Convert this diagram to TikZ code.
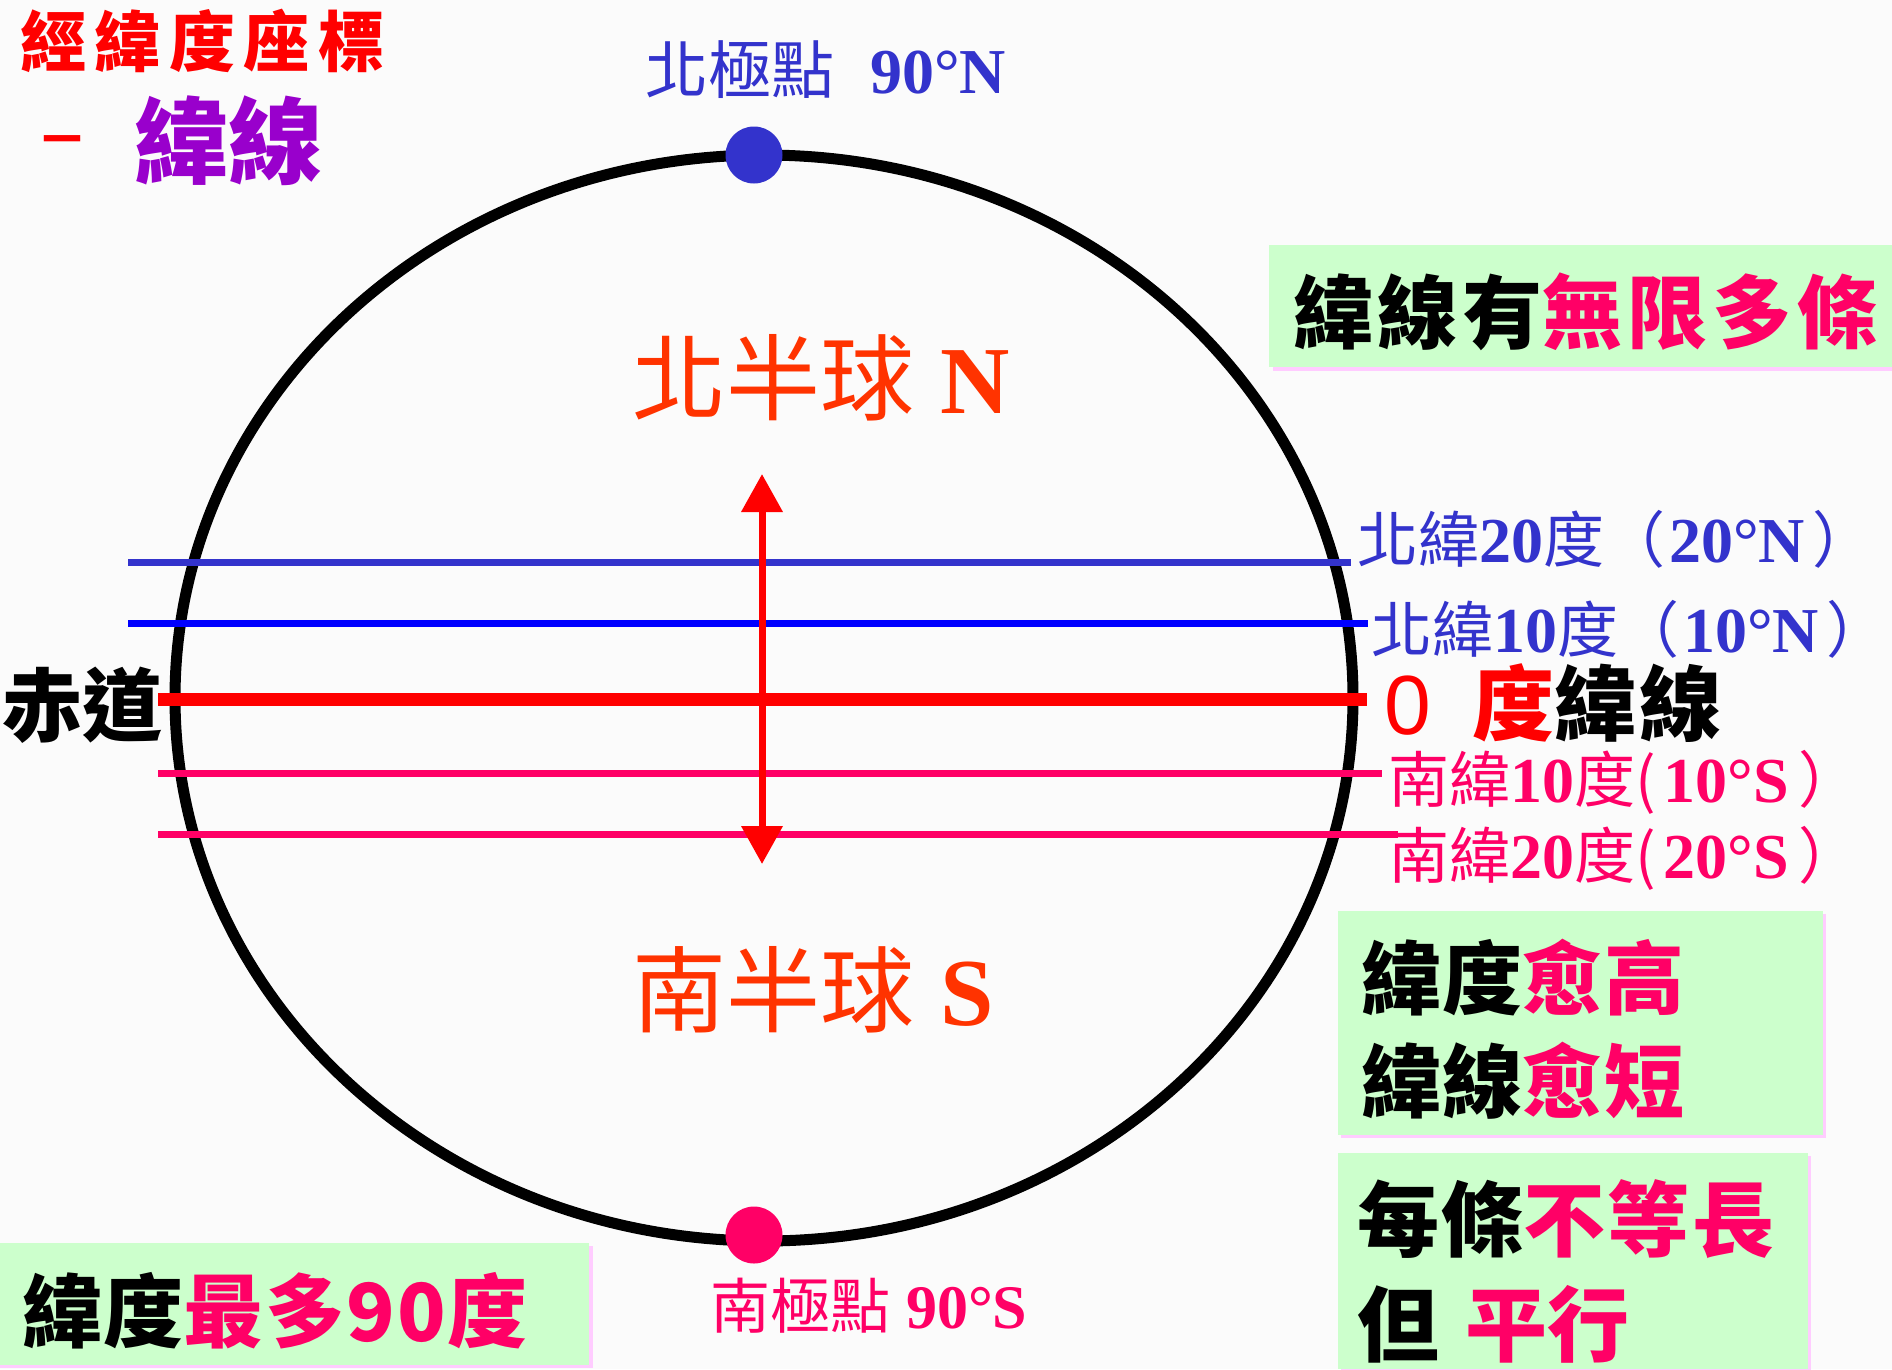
\documentclass[tikz,border=0pt]{standalone}
\usepackage{fontspec}
\usetikzlibrary{arrows.meta}
\newfontfamily\cjk{Noto Sans CJK TC}
\newfontfamily\tms{Liberation Serif}
\newfontfamily\ari{Liberation Sans}
\definecolor{bgc}{HTML}{FBFBFB}
\definecolor{bluec}{HTML}{3333CC}
\definecolor{pureblue}{HTML}{0000FF}
\definecolor{pinkc}{HTML}{FF0066}
\definecolor{redc}{HTML}{FF0000}
\definecolor{orc}{HTML}{FF3300}
\definecolor{purc}{HTML}{9900CC}
\definecolor{greenc}{HTML}{CCFFCC}
\definecolor{shadc}{HTML}{FFCCFF}
\newcommand\fsz[1]{\fontsize{#1}{#1}\selectfont}
\newcommand\tb[1]{{\tms\bfseries #1}}
\begin{document}
\begin{tikzpicture}[x=1pt,y=-1pt,
  lbl/.style={inner sep=0pt,outer sep=0pt,anchor=west},
  latline/.style={line width=7pt},
  greenbox/.style={fill=greenc},
  shadowbox/.style={fill=shadc},
  poledot/.style={circle,inner sep=0pt,minimum size=57pt}]
% background / bounding box
\fill[bgc] (0,0) rectangle (1892,1369);
\useasboundingbox (0,0) rectangle (1892,1369);

% globe
\draw[line width=11pt] (764,698) ellipse [x radius=589, y radius=543];

% latitude lines
\coordinate (n20w) at (128,562);  \coordinate (n20e) at (1351,562);
\coordinate (n10w) at (128,623);  \coordinate (n10e) at (1368,623);
\coordinate (eqw)  at (158,699);  \coordinate (eqe)  at (1367,699);
\coordinate (s10w) at (158,773);  \coordinate (s10e) at (1382,773);
\coordinate (s20w) at (158,834);  \coordinate (s20e) at (1398,834);
\draw[latline,bluec] (n20w) -- (n20e);
\draw[latline,pureblue] (n10w) -- (n10e);
\draw[line width=13pt,redc] (eqw) -- (eqe);
\draw[latline,pinkc] (s10w) -- (s10e);
\draw[latline,pinkc] (s20w) -- (s20e);

% arrow
\coordinate (arrN) at (762,474);
\coordinate (arrS) at (762,864);
\draw[redc,line width=7pt,{Triangle[width=40pt,length=38pt]}-{Triangle[width=40pt,length=38pt]}] (arrS) -- (arrN);

% poles
\node[poledot,fill=bluec] (np) at (754,155) {};
\node[poledot,fill=pinkc] (sp) at (754,1235) {};

% title
\node[lbl,text=redc] (title) at (20,41) {\cjk\bfseries\fsz{66}\addfontfeature{LetterSpace=13}經緯度座標};
\node[lbl,text=redc] (dash) at (36,147) {\cjk\bfseries\fsz{52}－};
\node[lbl,text=purc] (wx) at (134,141) {\cjk\bfseries\fsz{94}緯線};

% pole labels
\node[lbl,text=bluec] (npl) at (645,70) {\cjk\fsz{63}北極點\hspace{36pt}\tb{\fsz{64}90°N}};
\node[lbl,text=pinkc] (spl) at (710,1306) {\cjk\fsz{60}南極點\hspace{16pt}\tb{\fsz{62}90°S}};

% hemispheres
\node[lbl,text=orc] (nh) at (632,378) {\cjk\fsz{94}北半球\hspace{26pt}\tb{\fsz{96}N}};
\node[lbl,text=orc] (sh) at (632,990) {\cjk\fsz{94}南半球\hspace{26pt}\tb{\fsz{96}S}};

% latitude labels
\node[lbl,text=bluec] (l20n) at (1357,539) {\cjk\fsz{61}北緯\tb{\fsz{64}20}度（\hspace{4pt}\tb{\fsz{64}20°N}\hspace{8pt}）};
\node[lbl,text=bluec] (l10n) at (1371,629) {\cjk\fsz{61}北緯\tb{\fsz{64}10}度（\hspace{4pt}\tb{\fsz{64}10°N}\hspace{8pt}）};
\node[lbl] (l0) at (1384,703) {\textcolor{redc}{\ari\fsz{84}0}\hspace{42pt}{\cjk\bfseries\fsz{82}\addfontfeature{LetterSpace=4}\textcolor{redc}{度}\textcolor{black}{緯線}}};
\node[lbl,text=pinkc] (l10s) at (1388,782) {\cjk\fsz{61}南緯\tb{\fsz{64}10}度(\hspace{8pt}\tb{\fsz{64}10°S}\hspace{10pt}）};
\node[lbl,text=pinkc] (l20s) at (1388,858) {\cjk\fsz{61}南緯\tb{\fsz{64}20}度(\hspace{8pt}\tb{\fsz{64}20°S}\hspace{10pt}）};

% equator
\node[lbl] (eq) at (2,705) {\cjk\bfseries\fsz{80}赤道};

% boxes
\fill[shadowbox] (1273,249) rectangle (1896,371);
\fill[greenbox] (1269,245) rectangle (1892,367);
\node[lbl] (b1) at (1293,312) {\cjk\bfseries\fsz{80}\addfontfeature{LetterSpace=6}緯線有\textcolor{pinkc}{無限多條}};

\fill[shadowbox] (1341,914) rectangle (1826,1138);
\fill[greenbox] (1338,911) rectangle (1823,1135);
\node[lbl] (b2a) at (1361,978) {\cjk\bfseries\fsz{80}\addfontfeature{LetterSpace=2}緯度\textcolor{pinkc}{愈高}};
\node[lbl] (b2b) at (1361,1081) {\cjk\bfseries\fsz{80}\addfontfeature{LetterSpace=2}緯線\textcolor{pinkc}{愈短}};

\fill[shadowbox] (1341,1156) rectangle (1811,1373);
\fill[greenbox] (1338,1153) rectangle (1808,1369);
\node[lbl] (b3a) at (1357,1219) {\cjk\bfseries\fsz{82}\addfontfeature{LetterSpace=3}每條\textcolor{pinkc}{不等長}};
\node[lbl] (b3b) at (1357,1324) {\cjk\bfseries\fsz{82}但\hspace{26pt}\textcolor{pinkc}{平行}};

\fill[shadowbox] (0,1246) rectangle (593,1368);
\fill[greenbox] (0,1243) rectangle (589,1365);
\node[lbl] (b4) at (22,1311) {\cjk\bfseries\fsz{80}\addfontfeature{LetterSpace=2}緯度\textcolor{pinkc}{最多90度}};
\end{tikzpicture}
\end{document}
